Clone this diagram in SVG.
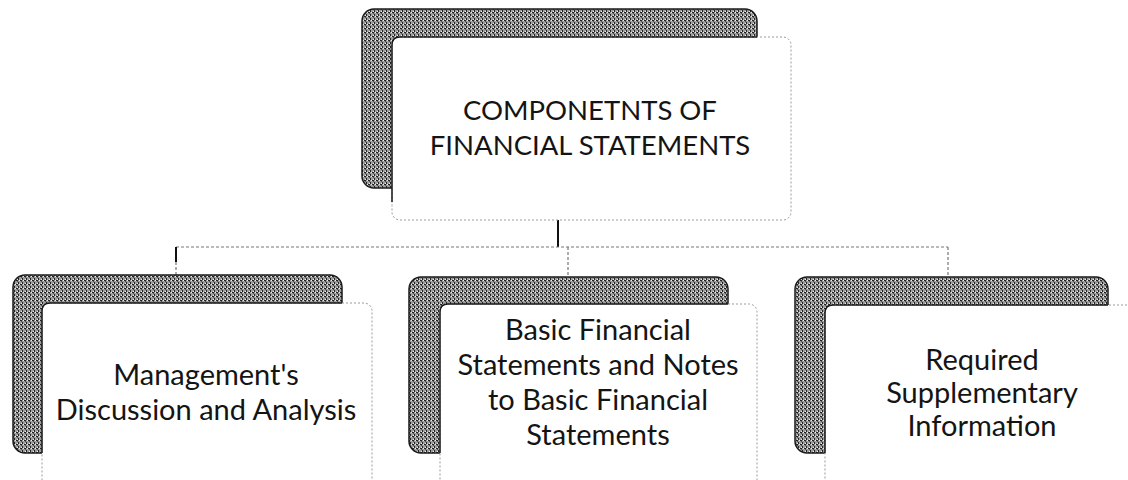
<svg xmlns="http://www.w3.org/2000/svg" width="1128" height="480" viewBox="0 0 1128 480">
<defs>
<pattern id="grain" width="4" height="4" patternUnits="userSpaceOnUse">
<rect width="4" height="4" fill="#9c9c9c"/>
<rect x="0" y="0" width="2" height="1" fill="#222222"/>
<rect x="2" y="2" width="1" height="2" fill="#222222"/>
<rect x="1" y="1" width="1" height="1" fill="#555555"/>
<rect x="3" y="0" width="1" height="1" fill="#eeeeee"/>
<rect x="1" y="3" width="1" height="1" fill="#eeeeee"/>
</pattern>
</defs>
<style>
.shadow{fill:url(#grain);stroke:#1a1a1a;stroke-width:1.5}
.box{fill:#ffffff;stroke:#9a9a9a;stroke-width:1;stroke-dasharray:2 2}
.edge{fill:none;stroke:#1a1a1a;stroke-width:1.5}
.lbl{font-family:Lato,"Liberation Sans",sans-serif;font-size:29px;fill:#141414;text-anchor:middle}
.big{font-size:27.5px}
.dot{fill:none;stroke:#777;stroke-width:1.2;stroke-dasharray:3 2}
.solid{fill:none;stroke:#111;stroke-width:2}
</style>
<rect width="1128" height="480" fill="#ffffff"/>
<g id="connectors">
<path class="solid" d="M558 220 V247"/>
<path class="dot" d="M176 247 H948"/>
<path class="solid" d="M176 247 V262" stroke-width="1.3"/>
<path class="dot" d="M176 262 V275"/>
<path class="dot" d="M568 247 V275"/>
<path class="dot" d="M948 247 V275"/>
</g>
<g id="node-top">
<rect class="shadow" x="362" y="9" width="395" height="179" rx="12"/>
<rect class="box" x="392" y="37" width="399" height="183" rx="8"/>
<path class="edge" d="M392 202 V45 Q392 37 400 37 H757"/>
<text class="lbl big" x="590" y="120">COMPONETNTS OF</text>
<text class="lbl big" x="590" y="155">FINANCIAL STATEMENTS</text>
</g>
<g id="node-mda">
<rect class="shadow" x="13" y="275" width="329" height="178" rx="12"/>
<rect class="box" x="42" y="303" width="330" height="190" rx="8"/>
<path class="edge" d="M42 453 V311 Q42 303 50 303 H342"/>
<text class="lbl" x="206" y="385">Management's</text>
<text class="lbl" x="206" y="420">Discussion and Analysis</text>
</g>
<g id="node-basic">
<rect class="shadow" x="409" y="277" width="319" height="176" rx="12"/>
<rect class="box" x="440" y="304" width="317" height="190" rx="8"/>
<path class="edge" d="M440 453 V312 Q440 304 448 304 H728"/>
<text class="lbl" x="598" y="340">Basic Financial</text>
<text class="lbl" x="598" y="375">Statements and Notes</text>
<text class="lbl" x="598" y="410">to Basic Financial</text>
<text class="lbl" x="598" y="445">Statements</text>
</g>
<g id="node-rsi">
<rect class="shadow" x="795" y="277" width="313" height="176" rx="12"/>
<rect class="box" x="825" y="305" width="320" height="190" rx="8"/>
<path class="edge" d="M825 453 V313 Q825 305 833 305 H1108"/>
<text class="lbl" x="982" y="370">Required</text>
<text class="lbl" x="982" y="403">Supplementary</text>
<text class="lbl" x="982" y="436">Information</text>
</g>
</svg>
